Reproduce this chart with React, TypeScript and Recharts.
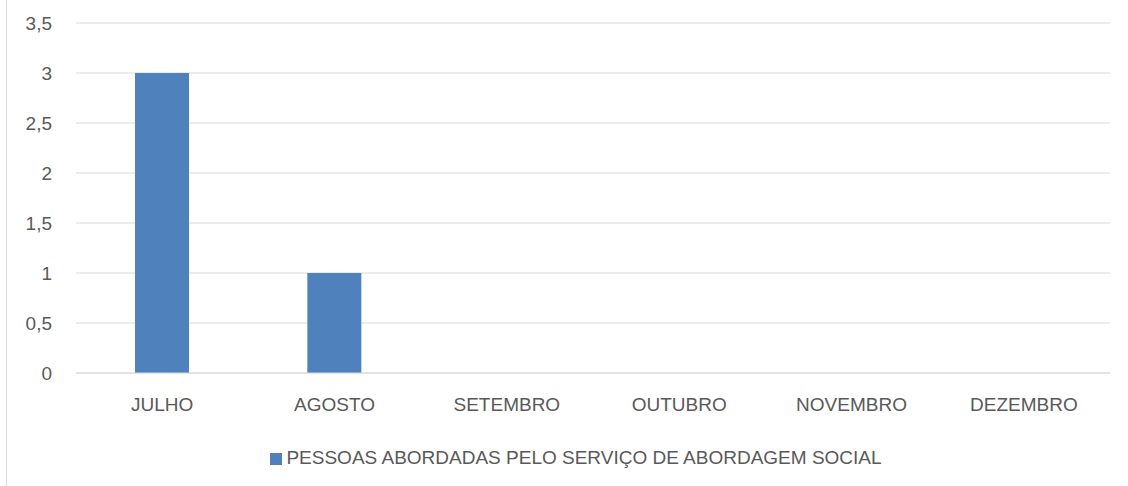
import { Bar, BarChart, CartesianGrid, Legend, XAxis, YAxis } from "recharts";

const months = ["JULHO", "AGOSTO", "SETEMBRO", "OUTUBRO", "NOVEMBRO", "DEZEMBRO"];
const pessoas = [3, 1, 0, 0, 0, 0];
const yTicks = [0, 0.5, 1, 1.5, 2, 2.5, 3, 3.5];

const seriesName = "PESSOAS ABORDADAS PELO SERVIÇO DE ABORDAGEM SOCIAL";

const data = months.map((month, i) => ({ month, value: pessoas[i] }));

const fmt = (v: number) => String(v).replace(".", ",");

export default function App() {
  const font = { fontFamily: "'Liberation Sans', Arial, sans-serif", fontSize: 19, fill: "#595959" };
  return (
    <div style={{ position: "absolute", left: 0, top: 0, width: 1128, height: 486, background: "#fff" }}>
      <div style={{ position: "absolute", left: 6, top: 0, width: 1, height: 486, background: "#d9d9d9" }} />
      <BarChart
        width={1128}
        height={486}
        data={data}
        margin={{ top: 23, right: 18, bottom: 53, left: 0 }}
      >
        <CartesianGrid vertical={false} stroke="#d9d9d9" strokeWidth={1} />
        <XAxis
          dataKey="month"
          axisLine={{ stroke: "#d9d9d9" }}
          tickLine={false}
          tickSize={0}
          tickMargin={25}
          tick={font}
          interval={0}
        />
        <YAxis
          width={76}
          domain={[0, 3.5]}
          ticks={yTicks}
          tickFormatter={fmt}
          axisLine={false}
          tickLine={false}
          tickSize={0}
          tickMargin={24}
          tick={font}
        />
        <Legend
          iconType="square"
          iconSize={12}
          wrapperStyle={{
            position: "absolute",
            top: 447,
            left: 0,
            width: 1128,
            height: 30,
            fontFamily: "'Liberation Sans', Arial, sans-serif",
            fontSize: 19,
            color: "#595959",
            paddingLeft: 34,
            boxSizing: "border-box",
          }}
          formatter={(v: string) => <span style={{ color: "#595959" }}>{v}</span>}
        />
        <Bar dataKey="value" name={seriesName} fill="#4f81bd" barSize={54} isAnimationActive={false} />
      </BarChart>
    </div>
  );
}
